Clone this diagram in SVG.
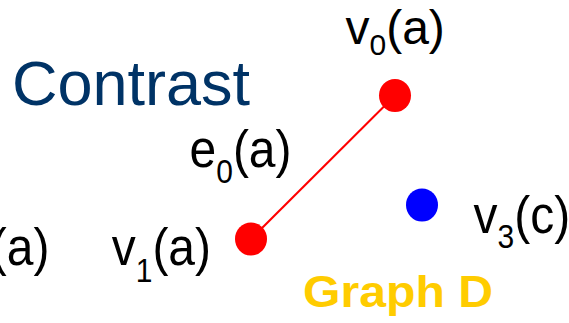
<svg xmlns="http://www.w3.org/2000/svg" width="569" height="323" viewBox="0 0 569 323">
<style>
.lbl{font-family:"Liberation Sans",Arial,sans-serif;font-size:48px;fill:#000}
.sub{font-size:30px}
.title{font-family:"Liberation Sans",Arial,sans-serif;font-size:63px;fill:#003366}
.gname{font-family:"Liberation Sans",Arial,sans-serif;font-size:45px;font-weight:bold;fill:#FFCC00}
.red{fill:#FF0000}
.blue{fill:#0000FF}
.edge{stroke:#FF0000;stroke-width:2;fill:none}
</style>
<rect width="569" height="323" fill="#fff"/>
<text id="title" class="title" x="12" y="105">Contrast</text>
<g id="connectors">
<line id="e0" class="edge" x1="395" y1="95.5" x2="251" y2="239"/>
<text id="e0-label" class="lbl" transform="matrix(1 0 0 1.08 0 -13.36)" x="189.5" y="167">e<tspan class="sub" x="216.2" y="181.8">0</tspan><tspan x="232.9" y="167">(a)</tspan></text>
</g>
<g id="v0">
<ellipse class="red" cx="395" cy="95.5" rx="16" ry="16.6"/>
<text class="lbl" x="345.5" y="44">v<tspan class="sub" x="369.5" y="55">0</tspan><tspan x="386.2" y="44">(a)</tspan></text>
</g>
<g id="v1">
<ellipse class="red" cx="251" cy="239" rx="16" ry="16.6"/>
<text class="lbl" transform="matrix(1 0 0 1.08 0 -21.2)" x="111.7" y="265">v<tspan class="sub" x="135.7" y="280.7">1</tspan><tspan x="152.4" y="265">(a)</tspan></text>
</g>
<g id="v3">
<ellipse class="blue" cx="422" cy="205" rx="16" ry="16.6"/>
<text class="lbl" transform="matrix(1 0 0 1.08 0 -18.64)" x="473.5" y="233">v<tspan class="sub" x="497.5" y="246.9">3</tspan><tspan x="514.2" y="233">(c)</tspan></text>
</g>
<g id="v2">
<text class="lbl" transform="matrix(1 0 0 1.08 0 -21.2)" x="49.5" y="265" text-anchor="end">(a)</text>
</g>
<text id="graph-name" class="gname" x="303" y="307" textLength="190" lengthAdjust="spacingAndGlyphs">Graph D</text>
</svg>
